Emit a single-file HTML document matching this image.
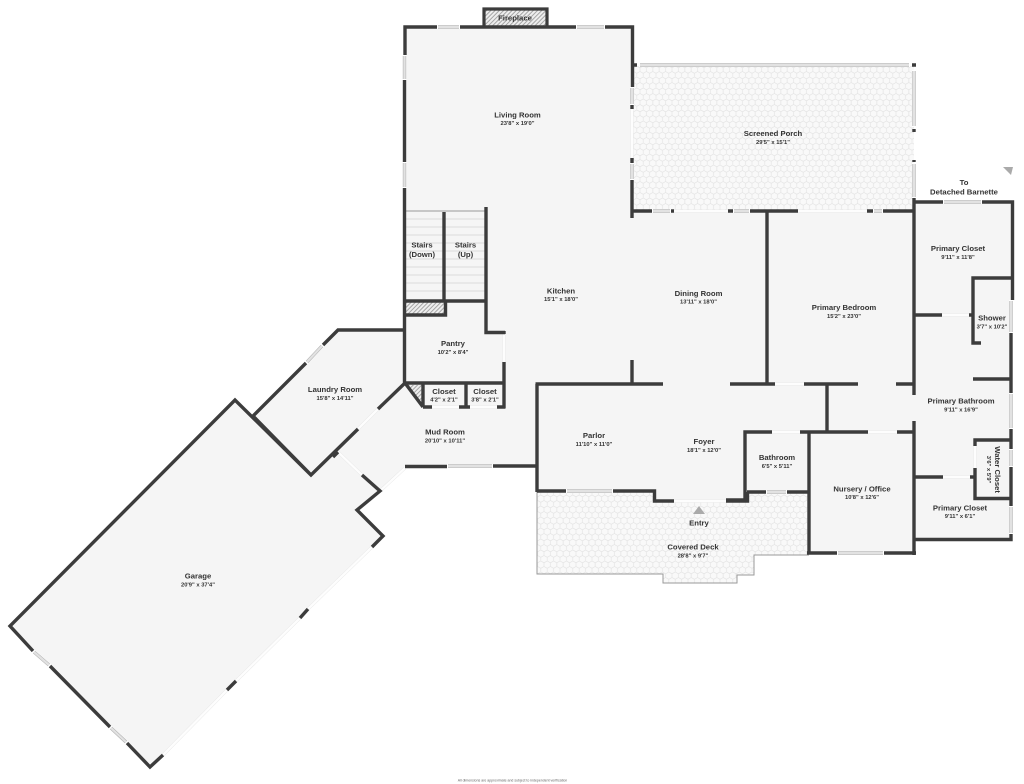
<!DOCTYPE html>
<html><head><meta charset="utf-8"><style>
html,body{margin:0;padding:0;background:#fff}
svg{display:block;filter:blur(.35px)}
text{font-family:"Liberation Sans",sans-serif;font-weight:bold;fill:#333;text-anchor:middle;dominant-baseline:middle}
.t{font-size:7.7px}.d{font-size:5.8px}
</style></head><body>
<svg width="1024" height="784" viewBox="0 0 1024 784" xmlns="http://www.w3.org/2000/svg">
<defs>
<pattern id="hex" width="6.4" height="11" patternUnits="userSpaceOnUse">
<rect width="6.4" height="11" fill="#f9f9f9"/>
<path d="M0 1.8L3.2 0L6.4 1.8V5.5L3.2 7.3L0 5.5ZM3.2 7.3V11M0 5.5L0 1.8" fill="none" stroke="#e4e4e4" stroke-width=".7"/>
</pattern>
<pattern id="hat" width="3" height="3" patternUnits="userSpaceOnUse" patternTransform="rotate(-45)">
<rect width="3" height="3" fill="#eee"/><rect width="3" height="1" fill="#a5a5a5"/>
</pattern>
</defs>

<!-- floor -->
<path d="M405 27H632V211H914V202H1011V538H914V553H809V492H746V501H653V491H537V466H405L380 491L357 510L383 536L150 767L10 626L235 400L253 416L338 330H405Z" fill="#f5f5f5"/>

<!-- porch and deck -->
<rect x="633" y="66" width="281" height="145" fill="url(#hex)"/>
<path d="M537 492H653V501H746V492H809V555H754V575H737V583H663V574H537Z" fill="url(#hex)"/>
<path d="M537 492V574H663V583H737V575H754V555H809" fill="none" stroke="#999" stroke-width="1"/>

<!-- hatched -->
<rect x="484" y="9" width="63" height="18" fill="url(#hat)"/>
<rect x="406" y="302" width="38" height="13" fill="url(#hat)"/>
<path d="M406 385H423V405Z" fill="url(#hat)"/>

<!-- stairs -->
<path d="M406 219H485M406 227H485M406 235H485M406 243H485M406 251H485M406 259H485M406 267H485M406 275H485M406 283H485M406 291H485" stroke="#dcdcdc" stroke-width="1" fill="none"/>
<path d="M406 211H485" stroke="#999" stroke-width="1"/>

<!-- doors -->
<path d="M632 109V158M674 211H729M798 211H867M775 384H804M772 432H800M868 432H897M942 315H969M943 477H970M975 446V468M504 334V362M378 409L358 429M338 452L362 475M380 491L405 468M674 501H726M372 547L308 609M300 618L236 681M227 690L163 755M432 407H459M470 407H497" fill="none" stroke="#e4e4e4" stroke-width="3.2"/>
<path d="M632 109V158M674 211H729M798 211H867M775 384H804M772 432H800M868 432H897M942 315H969M943 477H970M975 446V468M504 334V362M378 409L358 429M338 452L362 475M380 491L405 468M674 501H726M372 547L308 609M300 618L236 681M227 690L163 755M432 407H459M470 407H497" fill="none" stroke="#fdfdfd" stroke-width="2.4"/>

<!-- windows -->
<path d="M437 27H460M576 27H605M404.5 55V80M404.5 162V188M632 87V105M632 163V180M639 65H910M914 70V127M914 163V198M652 211H671M733 211H750M873 211H883M943 202H982M1011 300V333M1011 393V429M1011 449V467M1011 506V534M837 553H884M766 492H787M566 491H613M447 466H493M323 345L306 363M33 651L50 666M110 727L127 743" fill="none" stroke="#fff" stroke-width="4"/>
<path d="M438 27H459M577 27H604M404.5 56V79M404.5 163V187M632 88V104M632 164V179M640 65H909M914 71V126M914 164V197M653 211H670M734 211H749M874 211H882M944 202H981M1011 301V332M1011 394V428M1011 450V466M1011 507V533M838 553H883M767 492H786M567 491H612M448 466H492M322 346L307 362M34 652L49 665M111 728L126 742" fill="none" stroke="#b4b4b4" stroke-width="3.4"/>
<path d="M438 27H459M577 27H604M404.5 56V79M404.5 163V187M632 88V104M632 164V179M640 65H909M914 71V126M914 164V197M653 211H670M734 211H749M874 211H882M944 202H981M1011 301V332M1011 394V428M1011 450V466M1011 507V533M838 553H883M767 492H786M567 491H612M448 466H492M322 346L307 362M34 652L49 665M111 728L126 742" fill="none" stroke="#e2e2e2" stroke-width="2.2"/>

<!-- walls -->
<g fill="none" stroke="#3c3c3c" stroke-linejoin="miter">
<path stroke-width="3.4" d="M437 27H405V55M404.5 80V162M404.5 188V385M460 27H576M605 27H632.5V87M632 105V109M632 158V163M632 180V218M632 211H652M671 211H674M728 211H733M750 211H798M867 211H873M883 211H914M634 65H637M912 65H916M914 129V132M914 160V162M914 198V395M914 421V555M913 202H943M982 202H1012.5V300M1011 333V393M1011 429V449M1011 467V506M1011 534V539.5H914M767 211V384M730 384H775M804 384H858M896 384H914M827 384V432M745 501V432H772M800 432H868M897 432H914M726 500H746.5M747 492H766M787 492H809M809 432V553.5M807 553H837M884 553H916M914 315H942M969 315H973M981 343H973V278H1011M973 379H1011M975 446V440H1011M975 468V498.5H1011M914 477H943M970 477H975M444 212V301M486 207V332.5H505M504 331V334M504 362V408.5M497 407H505M405 301H486M405 315H445.5V301M405 383H505M423 383V407M466 383V407M459 407H470M423 407H432M405 383L423 407M378 409L405 383M358 429L311 475L253 416L306 363M323 345L338 330H405M338 452L333 457M362 475L380 491L357 510L383 536L372 547M308 609L300 618M236 681L227 690M163 755L150 767L127 743M110 727L50 666M33 651L10 626L235 400L311 475M405 466.5H447M493 466H537M537 384V492M535.5 384H663M730 384H775M632 360V384M537 491H566M613 491H654.5V501H674M726 501H747.5V492"/>
<path stroke-width="3.2" d="M484 27V9H547V27"/>
</g>

<!-- direction triangles -->
<path d="M693 514L699 506L705 514Z" fill="#aaa"/>
<path d="M1003 167L1013 167L1011 175Z" fill="#aaa"/>

<!-- labels -->
<g transform="translate(0 .6)">
<text class="t" x="515" y="18">Fireplace</text>
<text class="t" x="517.5" y="115">Living Room</text><text class="d" x="517.5" y="123">23'8" x 19'0"</text>
<text class="t" x="773" y="133.5">Screened Porch</text><text class="d" x="773" y="142">29'5" x 15'1"</text>
<text class="t" x="964" y="182.5">To</text><text class="t" x="964" y="192">Detached Barnette</text>
<text class="t" x="422" y="245">Stairs</text><text class="t" x="422" y="254.5">(Down)</text>
<text class="t" x="465.5" y="245">Stairs</text><text class="t" x="465.5" y="254.5">(Up)</text>
<text class="t" x="561" y="291">Kitchen</text><text class="d" x="561" y="299">15'1" x 18'0"</text>
<text class="t" x="698.5" y="293.5">Dining Room</text><text class="d" x="698.5" y="301.5">13'11" x 18'0"</text>
<text class="t" x="844" y="307.5">Primary Bedroom</text><text class="d" x="844" y="316">15'2" x 23'0"</text>
<text class="t" x="958" y="248.5">Primary Closet</text><text class="d" x="958" y="257">9'11" x 11'8"</text>
<text class="t" x="992" y="318">Shower</text><text class="d" x="992" y="326.5">3'7" x 10'2"</text>
<text class="t" x="961" y="401">Primary Bathroom</text><text class="d" x="961" y="409.5">9'11" x 16'9"</text>
<text class="t" transform="translate(997 469) rotate(90)">Water Closet</text><text class="d" transform="translate(988.5 469) rotate(90)">3'6" x 5'9"</text>
<text class="t" x="960" y="508">Primary Closet</text><text class="d" x="960" y="516">9'11" x 6'1"</text>
<text class="t" x="862" y="489">Nursery / Office</text><text class="d" x="862" y="497">10'8" x 12'6"</text>
<text class="t" x="777" y="457.5">Bathroom</text><text class="d" x="777" y="466">6'5" x 5'11"</text>
<text class="t" x="594" y="435.5">Parlor</text><text class="d" x="594" y="444">11'10" x 11'0"</text>
<text class="t" x="704" y="441.5">Foyer</text><text class="d" x="704" y="450">18'1" x 12'0"</text>
<text class="t" x="699" y="523">Entry</text>
<text class="t" x="693" y="547">Covered Deck</text><text class="d" x="693" y="555.5">28'8" x 9'7"</text>
<text class="t" x="453" y="343.5">Pantry</text><text class="d" x="453" y="352">10'2" x 8'4"</text>
<text class="t" x="444" y="391.5">Closet</text><text class="d" x="444" y="399.5">4'2" x 2'1"</text>
<text class="t" x="485" y="391.5">Closet</text><text class="d" x="485" y="399.5">3'8" x 2'1"</text>
<text class="t" x="335" y="389.5">Laundry Room</text><text class="d" x="335" y="398">15'8" x 14'11"</text>
<text class="t" x="445" y="432">Mud Room</text><text class="d" x="445" y="440.5">20'10" x 10'11"</text>
<text class="t" x="198" y="576">Garage</text><text class="d" x="198" y="584.5">20'9" x 37'4"</text>
<text x="512.5" y="780" style="font-size:3.5px;font-weight:normal;fill:#666">All dimensions are approximate and subject to independent verification</text>
</g>
</svg>
</body></html>
